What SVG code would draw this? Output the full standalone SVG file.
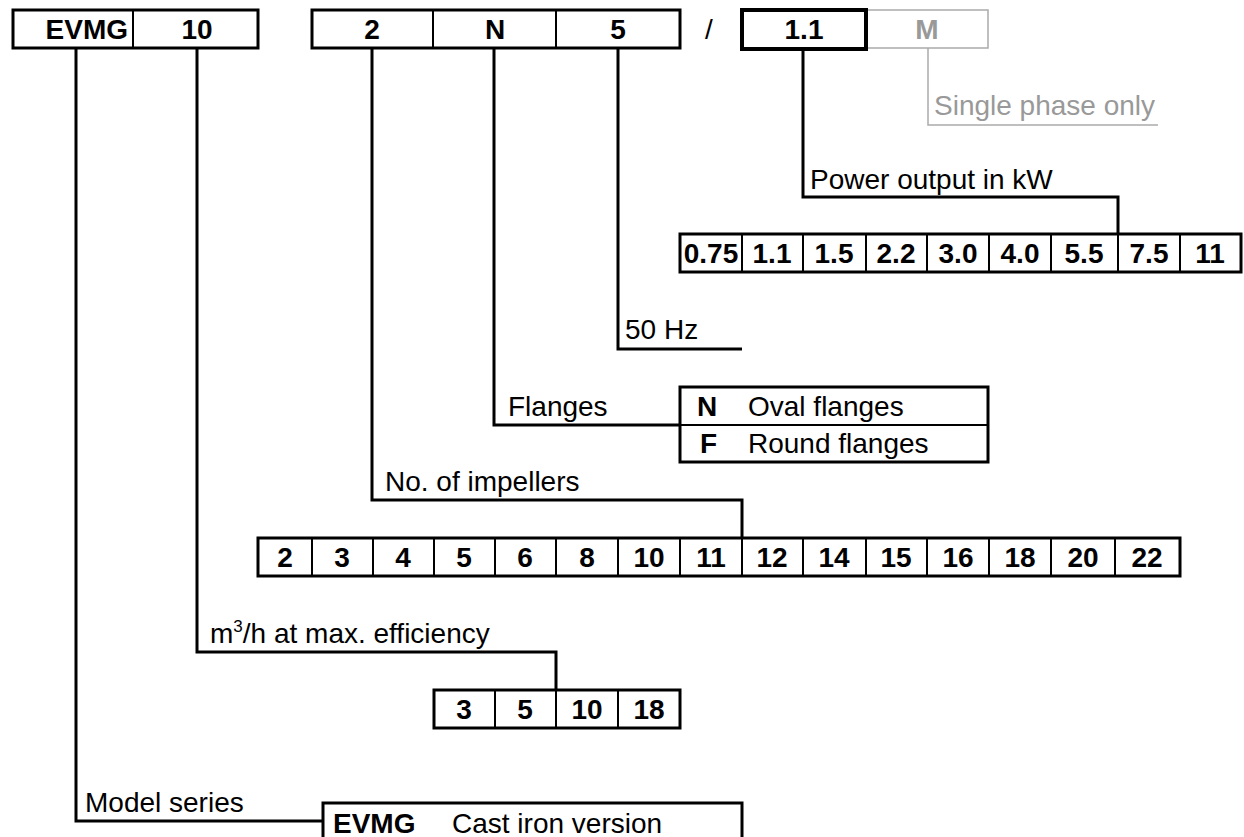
<svg xmlns="http://www.w3.org/2000/svg" width="1244" height="837" viewBox="0 0 1244 837">
<style>
text{font-family:"Liberation Sans",Arial,sans-serif;font-size:28px;fill:#000}
.b{font-weight:bold}
.c{text-anchor:middle}
.g{fill:#999}
.box{fill:#fff;stroke:#000;stroke-width:3}
.div{stroke:#000;stroke-width:2;fill:none}
.ln{stroke:#000;stroke-width:3;fill:none}
.gl{stroke:#aaa;stroke-width:1.5;fill:none}
</style>
<rect width="1244" height="837" fill="#fff"/>
<g id="connectors">
<path class="ln" d="M76,48 V821 H323"/>
<path class="ln" d="M197,48 V652 H556 V690"/>
<path class="ln" d="M372,48 V500 H742 V538"/>
<path class="ln" d="M494,48 V425 H680"/>
<path class="ln" d="M618,48 V349 H742"/>
<path class="ln" d="M803,48 V197 H1118 V234"/>
<path class="gl" d="M928,48 V125 H1158"/>
</g>
<g id="code-evmg-10">
<rect class="box" x="13" y="10" width="245" height="38"/>
<line class="div" x1="133" y1="10" x2="133" y2="48"/>
<text class="b" x="128" y="39" text-anchor="end">EVMG</text>
<text class="b c" x="197" y="39">10</text>
</g>
<g id="code-2-n-5">
<rect class="box" x="312" y="10" width="368" height="38"/>
<line class="div" x1="433" y1="10" x2="433" y2="48"/>
<line class="div" x1="556" y1="10" x2="556" y2="48"/>
<text class="b c" x="372" y="39">2</text>
<text class="b c" x="495" y="39">N</text>
<text class="b c" x="618" y="39">5</text>
</g>
<g id="slash"><text class="c" x="709" y="39">/</text></g>
<g id="code-m">
<rect x="866" y="10" width="122" height="38" fill="#fff" stroke="#aaa" stroke-width="1.5"/>
<text class="b c g" x="927" y="39">M</text>
</g>
<g id="code-1-1">
<rect x="742" y="10" width="124" height="39" fill="#fff" stroke="#000" stroke-width="4"/>
<text class="b c" x="804" y="39">1.1</text>
</g>
<g id="single-phase"><text class="g" x="934" y="115">Single phase only</text></g>
<g id="power-label"><text x="810" y="189">Power output in kW</text></g>
<g id="power-table">
<rect class="box" x="680" y="234" width="561" height="38"/>
<path class="div" d="M742,234V272M803,234V272M866,234V272M927,234V272M989,234V272M1051,234V272M1118,234V272M1180,234V272"/>
<text class="b c" x="711" y="263">0.75</text>
<text class="b c" x="772" y="263">1.1</text>
<text class="b c" x="834" y="263">1.5</text>
<text class="b c" x="896" y="263">2.2</text>
<text class="b c" x="958" y="263">3.0</text>
<text class="b c" x="1020" y="263">4.0</text>
<text class="b c" x="1084" y="263">5.5</text>
<text class="b c" x="1149" y="263">7.5</text>
<text class="b c" x="1210" y="263">11</text>
</g>
<g id="hz-label"><text x="625" y="339">50 Hz</text></g>
<g id="flanges-label"><text x="508" y="416">Flanges</text></g>
<g id="flanges-table">
<rect class="box" x="680" y="387" width="308" height="75"/>
<line class="div" x1="680" y1="425" x2="988" y2="425"/>
<text class="b" x="697" y="416">N</text>
<text x="748" y="416">Oval flanges</text>
<text class="b" x="700" y="453">F</text>
<text x="748" y="453">Round flanges</text>
</g>
<g id="impellers-label"><text x="385" y="491">No. of impellers</text></g>
<g id="impellers-table">
<rect class="box" x="258" y="538" width="922" height="38"/>
<path class="div" d="M312,538V576M373,538V576M434,538V576M495,538V576M556,538V576M618,538V576M680,538V576M742,538V576M803,538V576M866,538V576M927,538V576M989,538V576M1051,538V576M1115,538V576"/>
<text class="b c" x="285" y="567">2</text>
<text class="b c" x="342" y="567">3</text>
<text class="b c" x="403" y="567">4</text>
<text class="b c" x="464" y="567">5</text>
<text class="b c" x="525" y="567">6</text>
<text class="b c" x="587" y="567">8</text>
<text class="b c" x="649" y="567">10</text>
<text class="b c" x="711" y="567">11</text>
<text class="b c" x="772" y="567">12</text>
<text class="b c" x="834" y="567">14</text>
<text class="b c" x="896" y="567">15</text>
<text class="b c" x="958" y="567">16</text>
<text class="b c" x="1020" y="567">18</text>
<text class="b c" x="1083" y="567">20</text>
<text class="b c" x="1147" y="567">22</text>
</g>
<g id="flow-label"><text x="210" y="643">m<tspan font-size="17" dy="-11">3</tspan><tspan dy="11">/h at max. efficiency</tspan></text></g>
<g id="flow-table">
<rect class="box" x="434" y="690" width="246" height="38"/>
<path class="div" d="M495,690V728M556,690V728M618,690V728"/>
<text class="b c" x="464" y="719">3</text>
<text class="b c" x="525" y="719">5</text>
<text class="b c" x="587" y="719">10</text>
<text class="b c" x="649" y="719">18</text>
</g>
<g id="series-label"><text x="85" y="812">Model series</text></g>
<g id="series-table">
<rect class="box" x="323" y="803" width="419" height="60"/>
<text class="b" x="333" y="833">EVMG</text>
<text x="452" y="833">Cast iron version</text>
</g>
</svg>
